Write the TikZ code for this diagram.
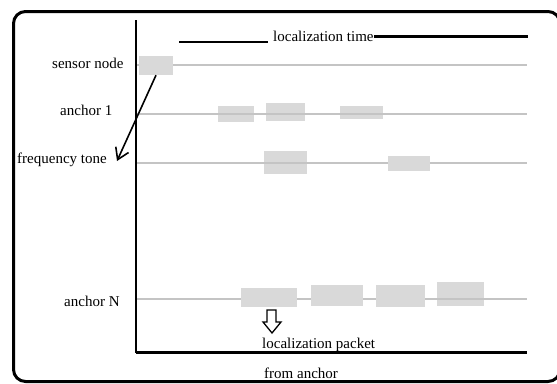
\documentclass[tikz,border=0pt]{standalone}
\usepackage{fontspec}
\setmainfont{Liberation Serif}
\usetikzlibrary{arrows.meta}
\definecolor{trackgray}{HTML}{C4C4C4}
\definecolor{slotgray}{HTML}{D9D9D9}
\tikzset{
  label/.style={inner sep=0pt, anchor=base west, font=\fontsize{15}{17}\selectfont},
  slot/.style={fill=slotgray, draw=none, inner sep=0pt},
  track/.style={draw=trackgray, line width=2pt},
  axis/.style={draw=black, line width=2pt},
  frame/.style={draw=black, line width=3pt, rounded corners=12pt},
}
\begin{document}
\begin{tikzpicture}[x=1pt, y=-1pt]
\useasboundingbox (0,0) rectangle (557,383);

% outer frame
\draw[frame] (13.5,11.5) rectangle (560,381.5);

% row labels
\node[label] (lsensor) at (52,68) {sensor node};
\node[label] (lanc1) at (60,115) {anchor 1};
\node[label] (lfreq) at (17,163) {frequency tone};
\node[label] (lancN) at (64,306) {anchor N};

% time axis caption
\node[label] (ltime) at (273,41) {localization time};
\coordinate (tL1) at (179,41.5);
\coordinate (tL2) at (268,41.5);
\coordinate (tR1) at (374,36.5);
\coordinate (tR2) at (528,36.5);
\draw[line width=2pt] (tL1) -- (tL2);
\draw[line width=3pt] (tR1) -- (tR2);

% track end points
\coordinate (sA) at (137,65);  \coordinate (sB) at (527,65);
\coordinate (aA) at (137,114); \coordinate (aB) at (527,114);
\coordinate (fA) at (137,163); \coordinate (fB) at (527,163);
\coordinate (nA) at (137,299); \coordinate (nB) at (527,299);

\draw[track] (sA) -- (sB);
\draw[track] (aA) -- (aB);
\draw[track] (fA) -- (fB);
\draw[track] (nA) -- (nB);

% transmission slots
\node[slot, minimum width=34pt, minimum height=19pt] (S1) at (156,65.5) {};
\node[slot, minimum width=36pt, minimum height=16pt] (A1) at (236,114) {};
\node[slot, minimum width=39pt, minimum height=18pt] (A2) at (285.5,112) {};
\node[slot, minimum width=43pt, minimum height=13pt] (A3) at (361.5,112.5) {};
\node[slot, minimum width=43pt, minimum height=23pt] (F1) at (285.5,162.5) {};
\node[slot, minimum width=42pt, minimum height=15pt] (F2) at (409,163.5) {};
\node[slot, minimum width=56pt, minimum height=19pt] (N1) at (269,297.5) {};
\node[slot, minimum width=52pt, minimum height=21pt] (N2) at (337,295.5) {};
\node[slot, minimum width=49pt, minimum height=22pt] (N3) at (400.5,296) {};
\node[slot, minimum width=47pt, minimum height=24pt] (N4) at (460.5,294) {};

% track showing through some slots
\draw[track] (A1.west |- aA) -- (A1.east |- aA);
\draw[track] (A2.west |- aA) -- (A2.east |- aA);
\draw[track] (A3.west |- aA) -- (A3.east |- aA);
\draw[track] (F1.west |- fA) -- (F1.east |- fA);
\draw[track] (N4.west |- nA) -- (N4.east |- nA);

% axes
\coordinate (yTop) at (136,20);
\coordinate (origin) at (136,352.5);
\coordinate (xEnd) at (527,352.5);
\draw[axis] (yTop) -- (origin);
\draw[axis, line width=2.5pt] (origin) -- (xEnd);

% tone arrow
\coordinate (ftip) at (117,161);
\draw[line width=1.6pt, -{Straight Barb[length=11pt,width=14pt,line width=1.6pt]}] (S1.south) -- (ftip);

% open down arrow marking the packet
\draw[line width=1.3pt, line join=miter] (267,310) -- (276,310) -- (276,322) -- (281,322)
  -- (272,333) -- (263,322) -- (267,322) -- cycle;

% bottom captions
\node[label] (lpacket) at (262,348) {localization packet};
\node[label] (lfrom) at (264,378) {from anchor};
\end{tikzpicture}
\end{document}
